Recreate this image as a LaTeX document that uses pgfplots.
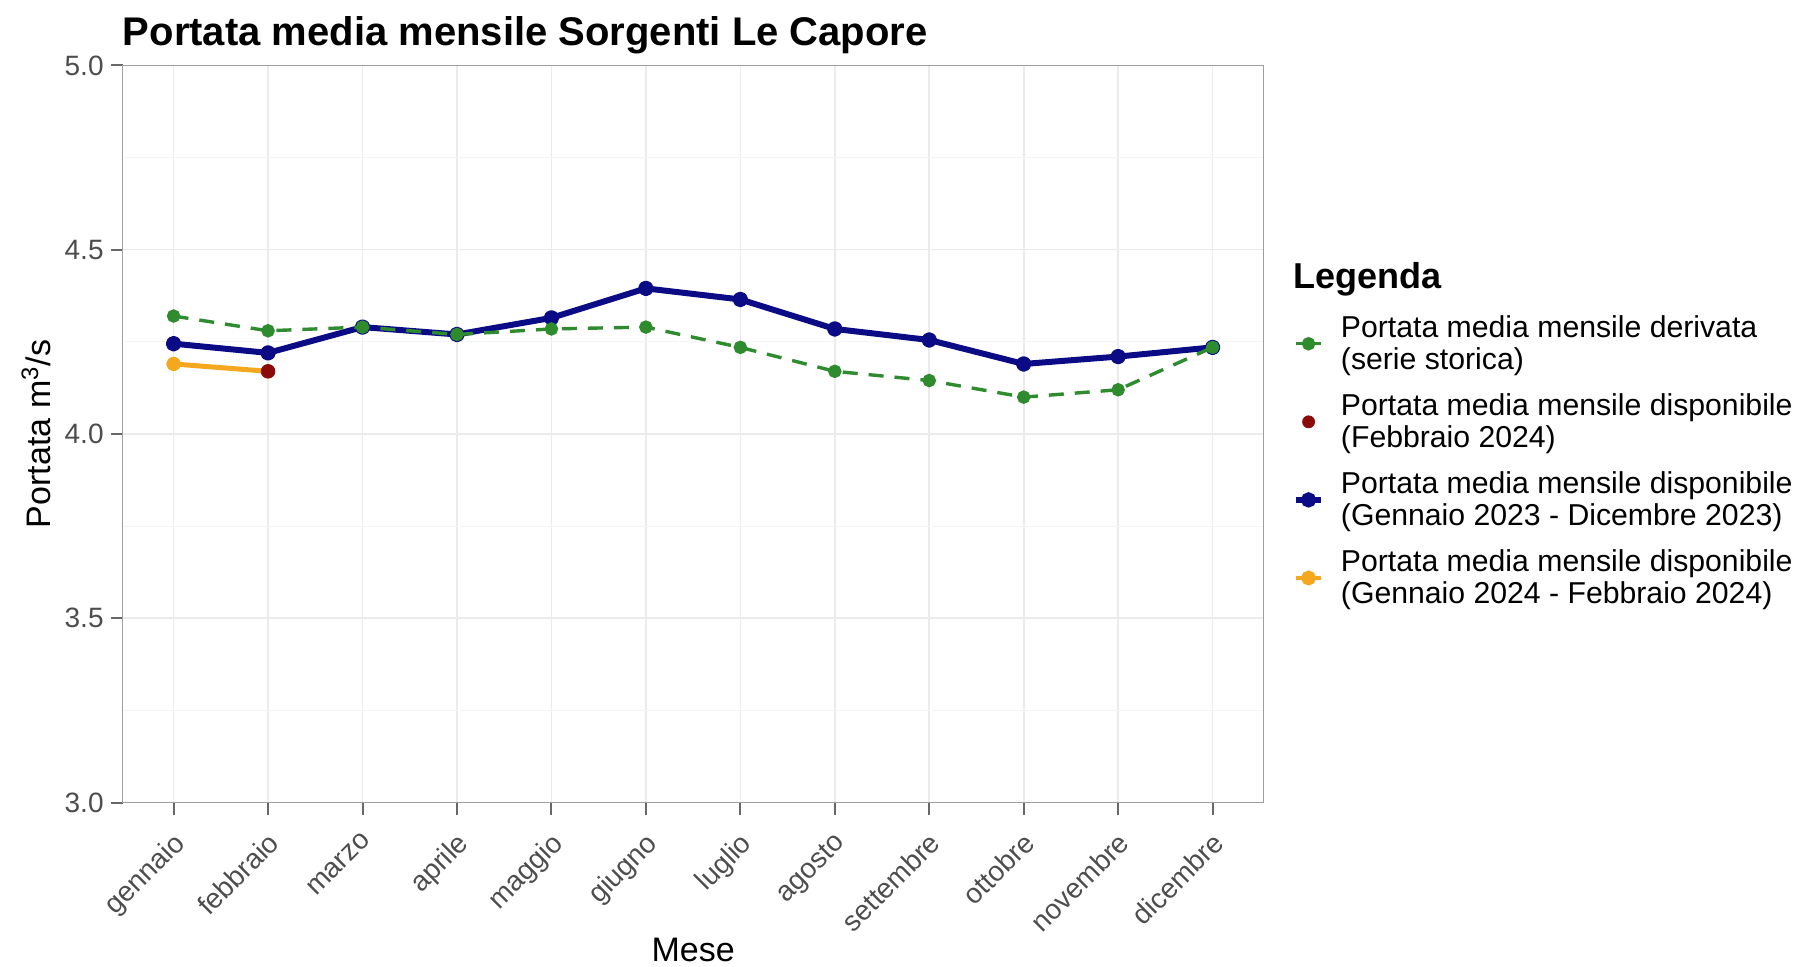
\documentclass[border=0pt]{standalone}
\usepackage{pgfplots}
\pgfplotsset{compat=1.18}
\usepackage{fontspec}
\setmainfont{Liberation Sans}
\definecolor{cgreen}{HTML}{2E8B2E}
\definecolor{cblue}{HTML}{0B0B86}
\definecolor{corange}{HTML}{F5A81E}
\definecolor{cred}{HTML}{8B0A0A}
\definecolor{gridc}{HTML}{EBEBEB}
\definecolor{gridm}{HTML}{F4F4F4}
\definecolor{tickc}{HTML}{4D4D4D}
\begin{document}
\begin{tikzpicture}
\useasboundingbox (0,0) rectangle (899pt,483.5pt);
\begin{axis}[
  at={(61.3pt,82.2pt)}, anchor=south west,
  scale only axis, width=570.5pt, height=368.6pt,
  clip mode=individual,
  xmin=-0.54, xmax=11.54, ymin=3, ymax=5,
  xtick={0,...,11},
  xticklabels={gennaio,febbraio,marzo,aprile,maggio,giugno,luglio,agosto,settembre,ottobre,novembre,dicembre},
  ytick={3,3.5,4,4.5,5},
  minor ytick={3.25,3.75,4.25,4.75},
  /pgf/number format/fixed, /pgf/number format/fixed zerofill, /pgf/number format/precision=1,
  /pgf/number format/assume math mode=true,
  grid=both,
  major grid style={gridc, line width=0.8pt},
  minor grid style={gridm, line width=0.6pt},
  tick align=outside, tick pos=left,
  major tick length=6pt, minor tick length=0pt,
  tick style={tickc!85, line width=1pt},
  axis line style={gray!75, line width=0.7pt},
  ticklabel style={font=\fontsize{14}{16}\selectfont, text=tickc},
  x tick label style={rotate=45, anchor=north east, inner sep=0pt, xshift=-6.2pt, yshift=-5.0pt},
  y tick label style={anchor=east, inner sep=0pt, xshift=-3.3pt},
  xlabel={Mese},
  xlabel style={font=\fontsize{17}{20}\selectfont, at={(rel axis cs:0.5,0)}, anchor=center, yshift=-73.5pt},
  ylabel={Portata m\textsuperscript{3}/s},
  ylabel style={font=\fontsize{17}{20}\selectfont, at={(rel axis cs:0,0.5)}, anchor=center, yshift=43.2pt},
  legend cell align=left,
  legend style={at={(rel axis cs:1.0261,0.661)}, anchor=north west, draw=none, fill=none,
    inner sep=0pt, outer sep=0pt, row sep=10.6pt, column sep=8.6pt,
    nodes={font=\fontsize{15.1}{16}\selectfont, align=left, inner sep=0pt}},
]
\addlegendimage{cgreen, line width=1.7pt, mark=*, mark size=2.5pt,
  legend image code/.code={\draw[mark repeat=2,mark phase=2] plot coordinates {(0pt,0pt) (6.3pt,0pt) (12.6pt,0pt)};}}
\addlegendentry{Portata media mensile derivata\\(serie storica)}
\addlegendimage{cred, only marks, mark=*, mark size=3pt,
  legend image code/.code={\draw plot coordinates {(6.3pt,0pt)};}}
\addlegendentry{Portata media mensile disponibile\\(Febbraio 2024)}
\addlegendimage{cblue, line width=2.6pt, mark=*, mark size=2.5pt,
  legend image code/.code={\draw[mark repeat=2,mark phase=2] plot coordinates {(0pt,0pt) (6.3pt,0pt) (12.6pt,0pt)};}}
\addlegendentry{Portata media mensile disponibile\\(Gennaio 2023 - Dicembre 2023)}
\addlegendimage{corange, line width=2.4pt, mark=*, mark size=2.5pt,
  legend image code/.code={\draw[mark repeat=2,mark phase=2] plot coordinates {(0pt,0pt) (6.3pt,0pt) (12.6pt,0pt)};}}
\addlegendentry{Portata media mensile disponibile\\(Gennaio 2024 - Febbraio 2024)}

\addplot[cblue, line width=3pt, line join=round, mark=*, mark size=2.4pt, forget plot] coordinates {
 (0,4.245) (1,4.22) (2,4.29) (3,4.27) (4,4.315) (5,4.395) (6,4.365) (7,4.285) (8,4.255) (9,4.19) (10,4.21) (11,4.235)};
\addplot[corange, line width=2.5pt, line join=round, mark=*, mark size=2.4pt, forget plot] coordinates {
 (0,4.19) (1,4.17)};
\addplot[cred, only marks, mark=*, mark size=3.4pt, forget plot] coordinates {(1,4.17)};
\addplot[cgreen, line width=1.7pt, dash pattern=on 7.5pt off 5.5pt, mark=*, mark size=2.5pt, mark options={solid}, forget plot] coordinates {
 (0,4.32) (1,4.28) (2,4.29) (3,4.27) (4,4.285) (5,4.29) (6,4.235) (7,4.17) (8,4.145) (9,4.10) (10,4.12) (11,4.235)};

\node[anchor=base west, font=\bfseries\fontsize{20}{24}\selectfont, yshift=9.8pt, inner sep=0pt] at (rel axis cs:0,1) {Portata media mensile Sorgenti Le Capore};
\node[anchor=base west, font=\bfseries\fontsize{18}{22}\selectfont, inner sep=0pt] at (rel axis cs:1.0261,0.6967) {Legenda};
\end{axis}
\end{tikzpicture}
\end{document}
